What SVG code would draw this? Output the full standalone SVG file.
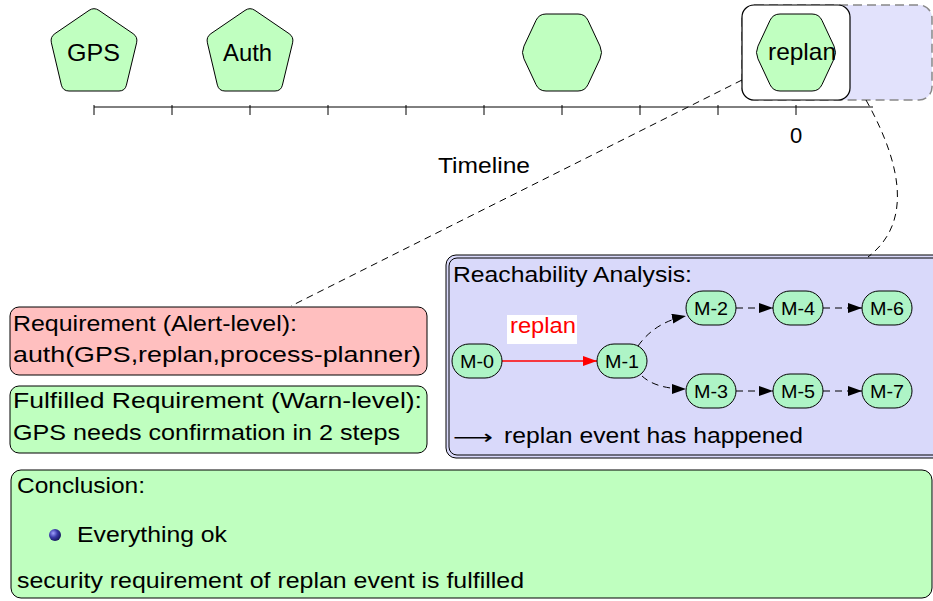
<svg xmlns="http://www.w3.org/2000/svg" width="933" height="601" viewBox="0 0 933 601">
<style>
text{font-family:"Liberation Sans",Arial,sans-serif;fill:#000}
.top{font-size:24px}
.t22{font-size:22px}
.mn{font-size:18px;text-anchor:middle}
.tn{fill:#c0ffc0;stroke:#000;stroke-width:1}
.mnode{fill:#aef4c6;stroke:#000;stroke-width:1}
.dash{fill:none;stroke:#000;stroke-width:1;stroke-dasharray:7 5}
.tick{stroke:#000;stroke-width:1}
</style>
<defs>
<path id="pent" d="M -4.96 -42.62 Q 0 -46 4.96 -42.62 L 39.04 -19.38 Q 44 -16 42.6 -10.16 L 32.4 32.16 Q 31 38 25 38 L -25 38 Q -31 38 -32.6 32.16 L -42.6 -10.16 Q -44 -16 -39.04 -19.38 Z"/>
<path id="hex" d="M 16 -38.5 Q 23 -38.5 25.96 -32.16 L 38.04 -6.34 Q 41 0 38.04 6.34 L 25.96 32.16 Q 23 38.5 16 38.5 L -16 38.5 Q -23 38.5 -25.96 32.16 L -38.04 6.34 Q -41 0 -38.04 -6.34 L -25.96 -32.16 Q -23 -38.5 -16 -38.5 Z"/>
<marker id="ah" viewBox="0 0 14 10" refX="14" refY="5" markerWidth="14" markerHeight="10" markerUnits="userSpaceOnUse" orient="auto"><path d="M0,0 L14,5 L0,10 Z" fill="#000"/></marker>
<marker id="ahr" viewBox="0 0 14 10" refX="14" refY="5" markerWidth="14" markerHeight="10" markerUnits="userSpaceOnUse" orient="auto"><path d="M0,0 L14,5 L0,10 Z" fill="#f00"/></marker>
<radialGradient id="ball" cx="0.35" cy="0.35" r="0.7">
<stop offset="0" stop-color="#a0a0ff"/>
<stop offset="0.5" stop-color="#3a3aa8"/>
<stop offset="1" stop-color="#15155a"/>
</radialGradient>
</defs>

<!-- timeline -->
<g id="timeline">
<line x1="94" y1="107" x2="873" y2="107" stroke="#000" stroke-width="1"/>
<path class="tick" d="M94 105V115M172 105V115M250 105V115M328 105V115M406 105V115M484 105V115M562 105V115M640 105V115M718 105V115M796 105V115"/>
<text class="t22" x="796" y="143" text-anchor="middle">0</text>
<text class="t22" x="438" y="173" textLength="92" lengthAdjust="spacingAndGlyphs">Timeline</text>
</g>

<!-- zoom frame boxes -->
<g id="zoom-target">
<rect x="742" y="5" width="190" height="95" rx="13" fill="#e2e2fc" stroke="#888" stroke-width="1.5" stroke-dasharray="9 5"/>
</g>
<g id="zoom-source">
<rect x="742" y="5" width="108" height="95" rx="12" fill="#fff" stroke="#000" stroke-width="1.2"/>
</g>

<!-- top nodes -->
<g id="gps">
<use href="#pent" x="94" y="53" class="tn"/>
<text class="top" x="67" y="61" textLength="53" lengthAdjust="spacingAndGlyphs">GPS</text>
</g>
<g id="auth">
<use href="#pent" x="250" y="53" class="tn"/>
<text class="top" x="223" y="61" textLength="49" lengthAdjust="spacingAndGlyphs">Auth</text>
</g>
<g id="empty">
<use href="#hex" x="562" y="52.5" class="tn"/>
</g>
<g id="replan">
<use href="#hex" x="796" y="52.5" class="tn"/>
<text class="top" x="768" y="60" textLength="68" lengthAdjust="spacingAndGlyphs">replan</text>
</g>

<!-- requirement boxes -->
<g id="req-alert">
<rect x="10" y="307" width="417" height="68" rx="9" fill="#ffbfbf" stroke="#000" stroke-width="1"/>
<text class="t22" x="13" y="331" textLength="284" lengthAdjust="spacingAndGlyphs">Requirement (Alert-level):</text>
<text class="t22" x="13" y="362" textLength="408" lengthAdjust="spacingAndGlyphs">auth(GPS,replan,process-planner)</text>
</g>
<g id="req-warn">
<rect x="10" y="386" width="417" height="67" rx="9" fill="#bfffbf" stroke="#000" stroke-width="1"/>
<text class="t22" x="13" y="408" textLength="409" lengthAdjust="spacingAndGlyphs">Fulfilled Requirement (Warn-level):</text>
<text class="t22" x="13" y="440" textLength="387" lengthAdjust="spacingAndGlyphs">GPS needs confirmation in 2 steps</text>
</g>

<!-- reachability box -->
<g id="reachability">
<rect x="446" y="255" width="500" height="203" rx="10" fill="#d9d9fa" stroke="#000" stroke-width="1"/>
<rect x="449" y="258" width="500" height="197" rx="8" fill="none" stroke="#000" stroke-width="1"/>
<text class="t22" x="453" y="282" textLength="239" lengthAdjust="spacingAndGlyphs">Reachability Analysis:</text>
<text x="453" y="444" style="font-family:'DejaVu Sans',sans-serif;font-size:20px" textLength="40" lengthAdjust="spacingAndGlyphs">⟶</text>
<text class="t22" x="504" y="443" textLength="299" lengthAdjust="spacingAndGlyphs">replan event has happened</text>
</g>

<!-- conclusion -->
<g id="conclusion">
<rect x="11" y="470" width="921" height="128" rx="10" fill="#bfffbf" stroke="#000" stroke-width="1"/>
<text class="t22" x="17" y="493" textLength="128" lengthAdjust="spacingAndGlyphs">Conclusion:</text>
<circle cx="55" cy="535" r="6" fill="url(#ball)"/>
<text class="t22" x="77" y="542" textLength="150" lengthAdjust="spacingAndGlyphs">Everything ok</text>
<text class="t22" x="17" y="588" textLength="507" lengthAdjust="spacingAndGlyphs">security requirement of replan event is fulfilled</text>
</g>

<!-- connectors -->
<g id="connectors">
<line class="dash" x1="742" y1="80" x2="291" y2="306"/>
<path class="dash" d="M 866 100 C 905 170, 910 225, 868 257"/>
<line x1="502" y1="361" x2="597" y2="361" stroke="#f00" stroke-width="1.5" marker-end="url(#ahr)"/>
<path class="dash" d="M 638 346 Q 655 322 686 316" marker-end="url(#ah)"/>
<path class="dash" d="M 642 376 Q 656 389 686 389" marker-end="url(#ah)"/>
<line class="dash" x1="736" y1="308" x2="773" y2="308" marker-end="url(#ah)"/>
<line class="dash" x1="823" y1="308" x2="862" y2="308" marker-end="url(#ah)"/>
<line class="dash" x1="736" y1="391" x2="773" y2="391" marker-end="url(#ah)"/>
<line class="dash" x1="823" y1="391" x2="862" y2="391" marker-end="url(#ah)"/>
</g>

<!-- edge label -->
<g id="label-replan">
<rect x="507" y="315" width="70" height="29" fill="#fff"/>
<text class="t22" x="510" y="333" textLength="66" lengthAdjust="spacingAndGlyphs" style="fill:#f00">replan</text>
</g>

<!-- M nodes -->
<g id="m0"><rect x="452" y="344" width="50" height="34" rx="17" class="mnode"/><text class="mn" x="477" y="367.5" textLength="34" lengthAdjust="spacingAndGlyphs">M-0</text></g>
<g id="m1"><rect x="597" y="344" width="50" height="34" rx="17" class="mnode"/><text class="mn" x="622" y="367.5" textLength="34" lengthAdjust="spacingAndGlyphs">M-1</text></g>
<g id="m2"><rect x="686" y="291" width="50" height="34" rx="17" class="mnode"/><text class="mn" x="711" y="314.5" textLength="34" lengthAdjust="spacingAndGlyphs">M-2</text></g>
<g id="m4"><rect x="773" y="291" width="50" height="34" rx="17" class="mnode"/><text class="mn" x="798" y="314.5" textLength="34" lengthAdjust="spacingAndGlyphs">M-4</text></g>
<g id="m6"><rect x="862" y="291" width="50" height="34" rx="17" class="mnode"/><text class="mn" x="887" y="314.5" textLength="34" lengthAdjust="spacingAndGlyphs">M-6</text></g>
<g id="m3"><rect x="686" y="374" width="50" height="34" rx="17" class="mnode"/><text class="mn" x="711" y="397.5" textLength="34" lengthAdjust="spacingAndGlyphs">M-3</text></g>
<g id="m5"><rect x="773" y="374" width="50" height="34" rx="17" class="mnode"/><text class="mn" x="798" y="397.5" textLength="34" lengthAdjust="spacingAndGlyphs">M-5</text></g>
<g id="m7"><rect x="862" y="374" width="50" height="34" rx="17" class="mnode"/><text class="mn" x="887" y="397.5" textLength="34" lengthAdjust="spacingAndGlyphs">M-7</text></g>
</svg>
